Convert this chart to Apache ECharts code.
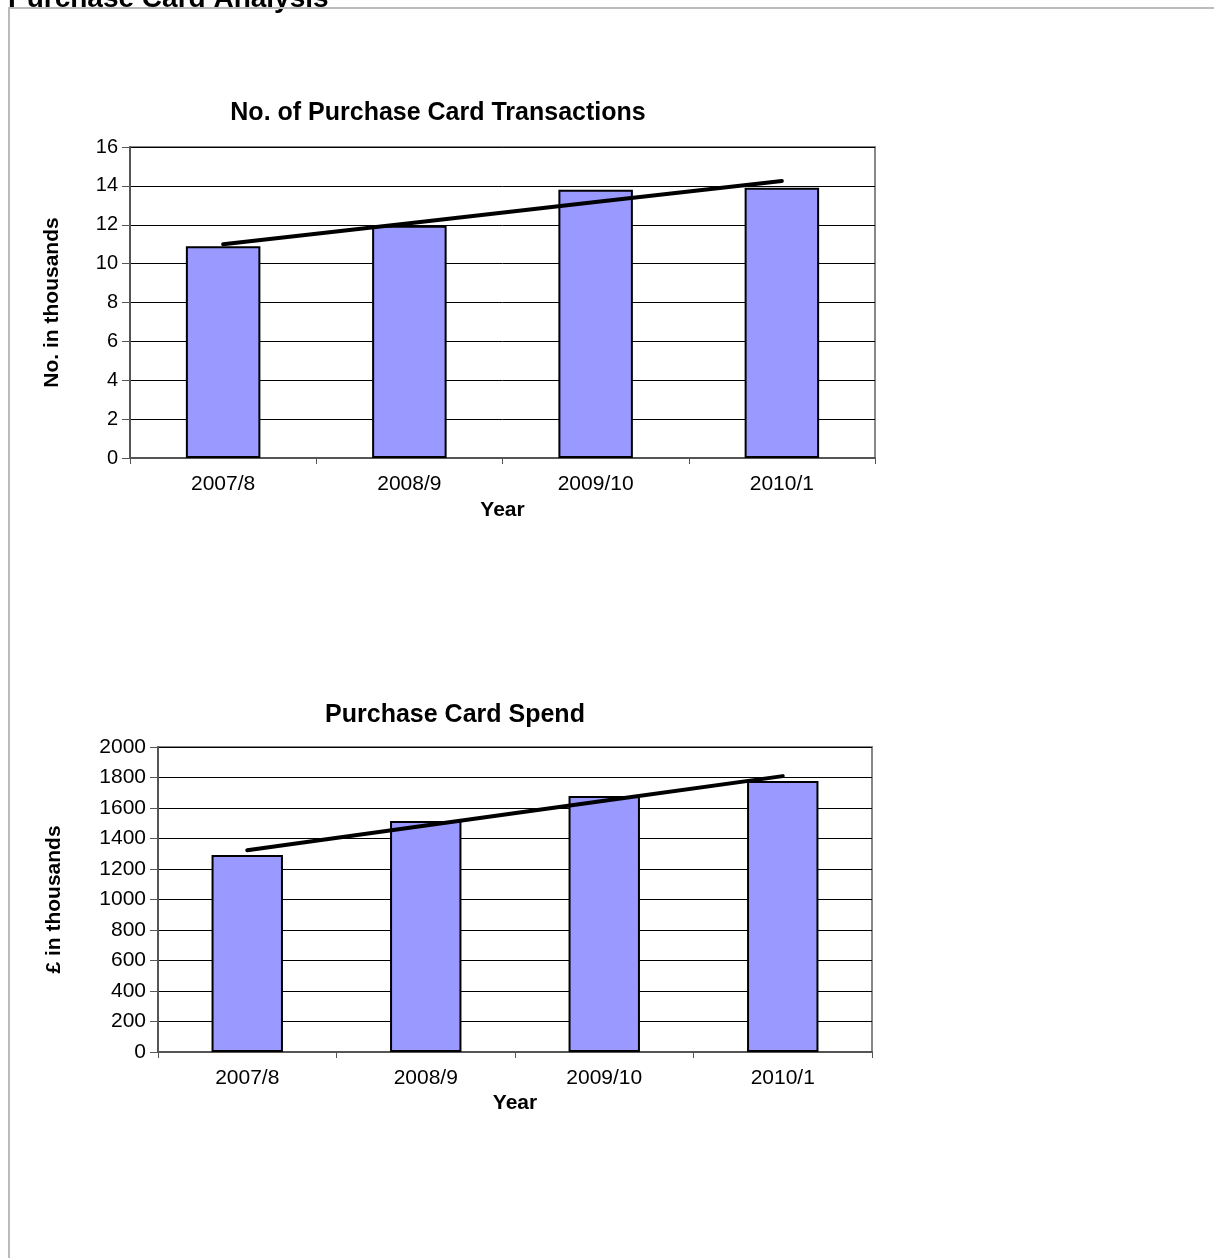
<!DOCTYPE html>
<html>
<head>
<meta charset="utf-8">
<script src="https://cdn.jsdelivr.net/npm/echarts@6/dist/echarts.min.js"></script>
<style>
  html, body { margin: 0; padding: 0; background: #fff; }
  #chart { width: 1214px; height: 1258px; }
</style>
</head>
<body>
<div id="chart"></div>
<script>
const years = ["2007/8", "2008/9", "2009/10", "2010/1"];
const transactions = [10.9, 11.95, 13.8, 13.9];
const transactionsTrend = [11.0, 12.08, 13.17, 14.25];
const spend = [1292, 1515, 1679, 1777];
const spendTrend = [1323, 1485, 1647, 1809];

const FONT = "Liberation Sans";
const BAR_COLOR = "#9999ff";

const catAxis = (gridIndex, gap) => ({
  type: "category",
  gridIndex,
  data: years,
  name: "Year",
  nameLocation: "middle",
  nameGap: gap,
  nameTextStyle: { fontFamily: FONT, fontSize: 21, fontWeight: "bold", color: "#000" },
  axisLine: { lineStyle: { color: "#555", width: 2 } },
  axisTick: { show: true, alignWithLabel: false, length: 6, lineStyle: { color: "#555" } },
  axisLabel: { fontFamily: FONT, fontSize: 21, color: "#000", margin: 16 },
});

const valAxis = (gridIndex, max, interval, name, gap, labelSize) => ({
  type: "value",
  gridIndex,
  min: 0,
  max,
  interval,
  name,
  nameLocation: "middle",
  nameRotate: 90,
  nameGap: gap,
  nameTextStyle: { fontFamily: FONT, fontSize: 21, fontWeight: "bold", color: "#000" },
  axisLine: { show: true, lineStyle: { color: "#555", width: 2 } },
  axisTick: { show: true, length: 8, lineStyle: { color: "#555" } },
  axisLabel: { fontFamily: FONT, fontSize: labelSize, color: "#000", margin: 12, formatter: (v) => String(v) },
  splitLine: { show: true, lineStyle: { color: "#000", width: 1 } },
});

const barSeries = (idx, data) => ({
  type: "bar",
  xAxisIndex: idx,
  yAxisIndex: idx,
  data,
  barWidth: "40%",
  itemStyle: { color: BAR_COLOR, borderColor: "#000", borderWidth: 2 },
  z: 2,
});

const trendSeries = (idx, data) => ({
  type: "line",
  xAxisIndex: idx,
  yAxisIndex: idx,
  data,
  symbol: "none",
  lineStyle: { color: "#000", width: 4, cap: "round" },
  z: 3,
});

const option = {
  animation: false,
  backgroundColor: "#fff",
  title: [
    {
      text: "No. of Purchase Card Transactions",
      left: 433,
      top: 96,
      textAlign: "center",
      textStyle: { fontFamily: FONT, fontSize: 25, fontWeight: "bold", color: "#000" },
    },
    {
      text: "Purchase Card Spend",
      left: 450,
      top: 698,
      textAlign: "center",
      textStyle: { fontFamily: FONT, fontSize: 25, fontWeight: "bold", color: "#000" },
    },
  ],
  graphic: [
    {
      type: "text",
      left: 8,
      top: -15,
      style: { text: "Purchase Card Analysis", font: "bold 28px 'Liberation Sans'", fill: "#000" },
    },
    { type: "line", shape: { x1: 8, y1: 8, x2: 1214, y2: 8 }, style: { stroke: "#bbb", lineWidth: 2 } },
    { type: "line", shape: { x1: 9, y1: 8, x2: 9, y2: 1258 }, style: { stroke: "#bbb", lineWidth: 2 } },
  ],
  grid: [
    { left: 130, top: 147, width: 745, height: 311, show: true, borderColor: "#888", borderWidth: 2 },
    { left: 158, top: 747, width: 714, height: 305, show: true, borderColor: "#888", borderWidth: 2 },
  ],
  xAxis: [catAxis(0, 42), catAxis(1, 41)],
  yAxis: [
    valAxis(0, 16, 2, "No. in thousands", 67, 20),
    valAxis(1, 2000, 200, "£ in thousands", 93, 21),
  ],
  series: [
    barSeries(0, transactions),
    trendSeries(0, transactionsTrend),
    barSeries(1, spend),
    trendSeries(1, spendTrend),
  ],
};

const myChart = echarts.init(document.getElementById("chart"));
myChart.setOption(option);
</script>
</body>
</html>
